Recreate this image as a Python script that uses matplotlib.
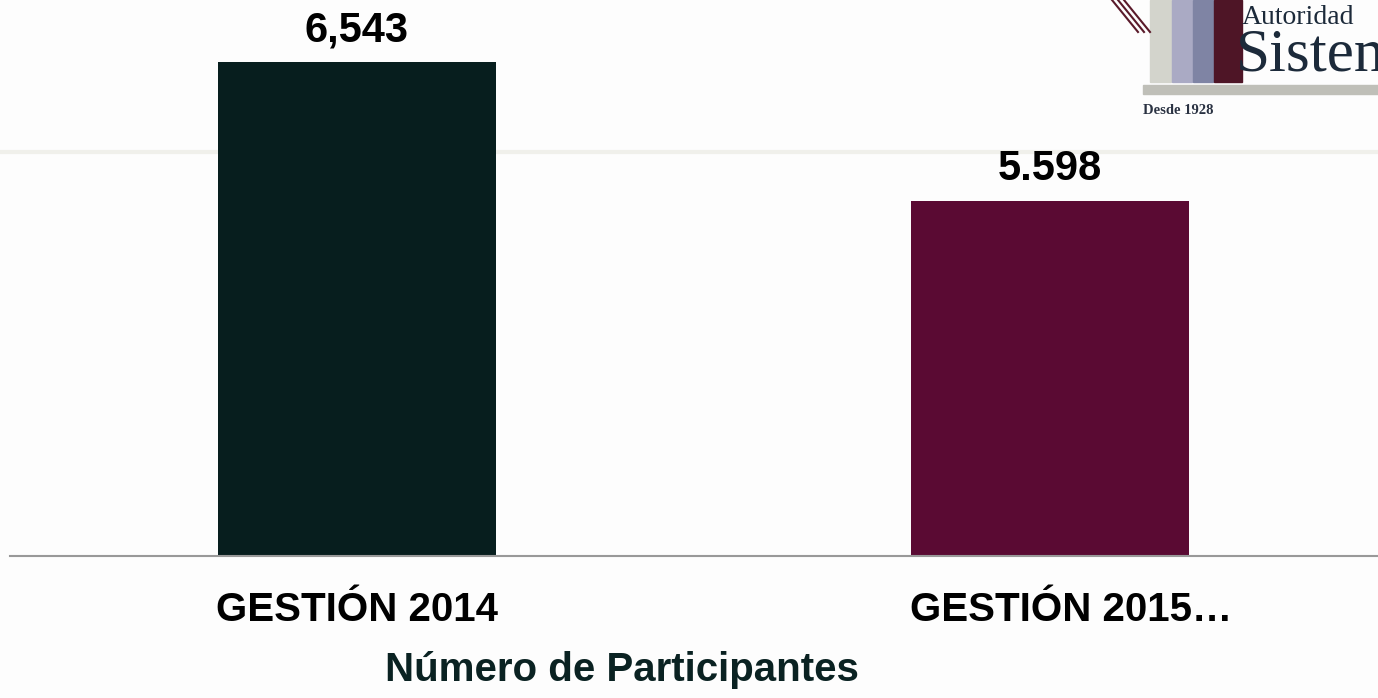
import matplotlib.pyplot as plt
from matplotlib.patches import Rectangle

# ---- Data ----
categories = ['GESTIÓN 2014', 'GESTIÓN 2015…']
participants = [6543, 5598]
value_labels = ['6,543', '5.598']
bar_colors = ['#071e1e', '#5a0a33']
title = 'Número de Participantes'

plt.rcParams['font.family'] = ['Liberation Sans', 'DejaVu Sans']

W, H = 1378, 698

# ---- Figure ----
fig = plt.figure(figsize=(13.78, 6.98), dpi=100, facecolor='#fdfdfd')

# faint template line in the background
fig.add_artist(plt.Line2D([0, 1], [1 - 152 / H, 1 - 152 / H], transform=fig.transFigure,
                          color='#f0f0eb', lw=3, zorder=0))

# logo (rough sketch)
for x0, w, c in [(1150, 21, '#d3d4cc'), (1172, 20, '#aaaac4'), (1193, 20, '#7f84a4'), (1214, 28, '#4e1526')]:
    fig.add_artist(Rectangle((x0 / W, 1 - 82 / H), w / W, 82 / H,
                             transform=fig.transFigure, color=c, zorder=1))
fig.add_artist(Rectangle((1143 / W, 1 - 94 / H), 235 / W, 9 / H,
                         transform=fig.transFigure, color='#bfbfb8', zorder=1))
for dx in [0, 6, 12]:
    fig.add_artist(plt.Line2D([(1112 + dx) / W, (1138 + dx) / W], [1.0, 1 - 32 / H],
                              transform=fig.transFigure, color='#5a1a2a', lw=1.5, zorder=1))
fig.text(1242 / W, 1 - 17 / H, 'Autoridad', family='Liberation Serif', fontsize=20,
         color='#1c2a3a', va='center', ha='left')
fig.text(1236 / W, 1 - 56 / H, 'Sisten', family='Liberation Serif', fontsize=44,
         color='#1c2a3a', va='center', ha='left')
fig.text(1143 / W, 1 - 111 / H, 'Desde 1928', family='Liberation Serif', fontsize=10.5,
         fontweight='bold', color='#2a3242', va='center', ha='left')

# ---- Axes ----
ax = fig.add_axes([10 / W, 142 / H, 1368 / W, 556 / H])
ax.set_facecolor('none')
x = list(range(len(categories)))
bars = ax.bar(x, participants, width=0.401, color=bar_colors, zorder=2)
ax.set_xlim(-0.5, 1.473)
ax.set_ylim(3181, 6965)

for b, lab in zip(bars, value_labels):
    ax.annotate(lab, (b.get_x() + b.get_width() / 2, b.get_height()),
                xytext=(0, 23), textcoords='offset points', ha='center', va='center',
                fontsize=30, fontweight='bold', color='black')

for s in ['top', 'right', 'left']:
    ax.spines[s].set_visible(False)
ax.spines['bottom'].set_color('#999999')
ax.spines['bottom'].set_linewidth(1.5)
ax.set_yticks([])
ax.set_xticks([])

# category labels (second one sits a bit to the right, as in the original)
for xi, cat, dx in zip(x, categories, [0, 0.03]):
    ax.text(xi + dx, -54 / 556, cat, transform=ax.get_xaxis_transform(),
            ha='center', va='center', fontsize=29, fontweight='bold', color='black')

fig.text(622 / W, 1 - 670 / H, title, ha='center', va='center',
         fontsize=29, fontweight='bold', color='#0a2222')

fig.savefig('out.png', dpi=100, facecolor=fig.get_facecolor())
